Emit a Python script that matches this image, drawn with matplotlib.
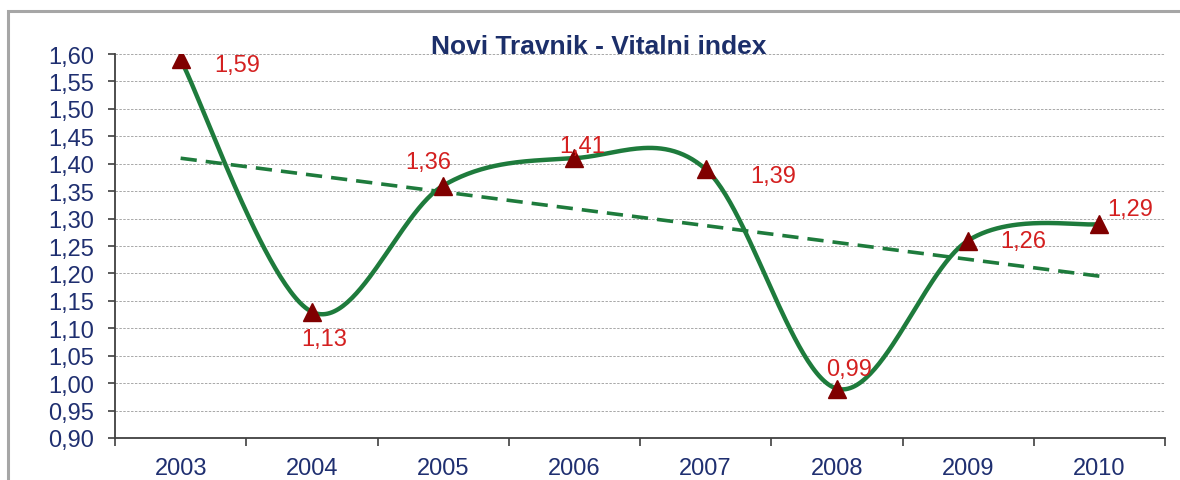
import numpy as np
import matplotlib
matplotlib.use("Agg")
import matplotlib.pyplot as plt
from matplotlib.patches import Rectangle
from matplotlib.ticker import FuncFormatter, FixedLocator

years = ["2003", "2004", "2005", "2006", "2007", "2008", "2009", "2010"]
values = [1.59, 1.13, 1.36, 1.41, 1.39, 0.99, 1.26, 1.29]
labels = ["1,59", "1,13", "1,36", "1,41", "1,39", "0,99", "1,26", "1,29"]
label_offsets = [(57, -6), (12, -27), (-15, 24), (8, 12), (68, -7), (12, 20), (55, 0), (31, 15)]
title = "Novi Travnik - Vitalni index"

plt.rcParams['font.family'] = ['Liberation Sans', 'DejaVu Sans']

W, H = 1180, 481
fig = plt.figure(figsize=(W / 100, H / 100), dpi=100)
fig.patch.set_facecolor("white")

# outer chart border
fig.patches.append(Rectangle((8 / W, -0.2), 1.5, 1.2 - 12 / H, transform=fig.transFigure,
                             fill=False, edgecolor="#A6A6A6", linewidth=2.2))

ax = fig.add_axes([115 / W, 1 - 439 / H, (1165 - 115) / W, (439 - 55) / H])

x = np.arange(len(values))
y = np.array(values, dtype=float)

# smooth curve (Catmull-Rom style Bezier, as in spreadsheet smoothing)
P = np.column_stack([x, y]).astype(float)
Pext = np.vstack([P[0], P, P[-1]])
curve = []
t = np.linspace(0, 1, 60)
for i in range(len(P) - 1):
    p0, p1, p2, p3 = Pext[i], Pext[i + 1], Pext[i + 2], Pext[i + 3]
    c1 = p1 + (p2 - p0) / 6.0
    c2 = p2 - (p3 - p1) / 6.0
    seg = ((1 - t) ** 3)[:, None] * p1 + (3 * (1 - t) ** 2 * t)[:, None] * c1 + \
          (3 * (1 - t) * t ** 2)[:, None] * c2 + (t ** 3)[:, None] * p2
    curve.append(seg)
curve = np.vstack(curve)

green = "#1E7B3C"
# linear trend
coef = np.polyfit(x, y, 1)
ax.plot([x[0], x[-1]], np.polyval(coef, [x[0], x[-1]]), color=green, lw=2.6,
        ls=(0, (4.5, 2.5)), zorder=3)
ax.plot(curve[:, 0], curve[:, 1], color=green, lw=3.2, zorder=4, solid_capstyle="round")
ax.plot(x, y, ls="none", marker="^", ms=13, color="#800000", markeredgecolor="#800000", zorder=5)

for xi, yi, lab, off in zip(x, y, labels, label_offsets):
    ax.annotate(lab, (xi, yi), xytext=off, textcoords="offset pixels",
                ha="center", va="center", color="#D42020", fontsize=17, zorder=6)

ax.set_xlim(-0.5, len(values) - 0.5)
ax.set_ylim(0.90, 1.60)
yt = np.round(np.arange(0.90, 1.6001, 0.05), 2)
ax.set_yticks(yt)
ax.yaxis.set_major_formatter(FuncFormatter(lambda v, p: f"{v:.2f}".replace(".", ",")))
ax.grid(axis="y", color="#A8A8A8", ls=(0, (2.5, 1.5)), lw=0.7)
ax.set_axisbelow(True)

ax.xaxis.set_major_locator(FixedLocator(np.arange(-0.5, len(values), 1.0)))
ax.xaxis.set_major_formatter(FuncFormatter(lambda v, p: ""))
ax.xaxis.set_minor_locator(FixedLocator(x))
ax.set_xticklabels(years, minor=True)
ax.tick_params(axis="x", which="major", length=6, width=1.2, color="#404040", direction="out")
ax.tick_params(axis="x", which="minor", length=0, pad=14, labelsize=17, labelcolor="#1F2F70")
ax.tick_params(axis="y", length=5, width=1.2, color="#404040", pad=10, labelsize=17,
               labelcolor="#1F2F70")

for s in ["top", "right"]:
    ax.spines[s].set_visible(False)
for s in ["left", "bottom"]:
    ax.spines[s].set_color("#404040")
    ax.spines[s].set_linewidth(1.3)

fig.text(599 / W, 1 - 47 / H, title, ha="center", va="center", fontsize=19,
         fontweight="bold", color="#1C2F6A")

fig.savefig("out.png", dpi=100)
